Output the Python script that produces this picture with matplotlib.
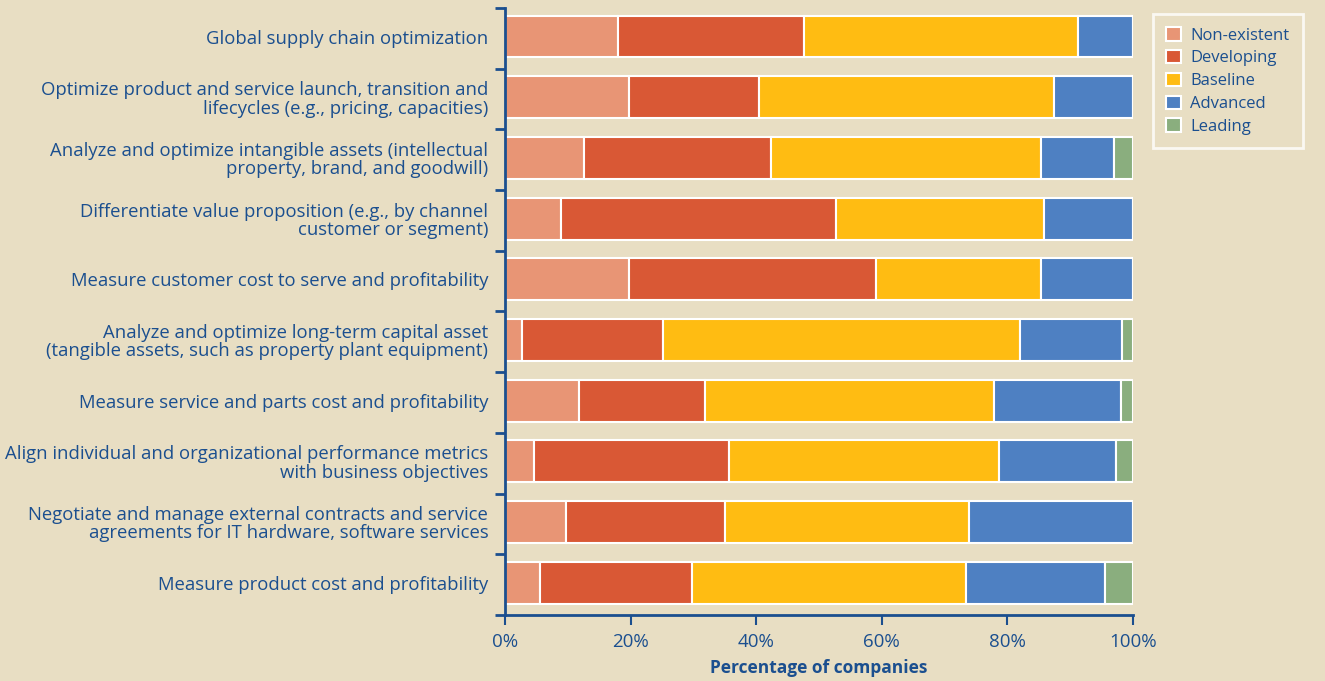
import numpy as np
import matplotlib
matplotlib.use("Agg")
import matplotlib.pyplot as plt

categories = [
    "Global supply chain optimization",
    "Optimize product and service launch, transition and\nlifecycles (e.g., pricing, capacities)",
    "Analyze and optimize intangible assets (intellectual\nproperty, brand, and goodwill)",
    "Differentiate value proposition (e.g., by channel\ncustomer or segment)",
    "Measure customer cost to serve and profitability",
    "Analyze and optimize long-term capital asset\n(tangible assets, such as property plant equipment)",
    "Measure service and parts cost and profitability",
    "Align individual and organizational performance metrics\nwith business objectives",
    "Negotiate and manage external contracts and service\nagreements for IT hardware, software services",
    "Measure product cost and profitability",
]

levels = ["Non-existent", "Developing", "Baseline", "Advanced", "Leading"]

non_existent = [18.0, 19.7, 12.5, 8.9, 19.7, 2.7, 11.8, 4.6, 9.7, 5.5]
developing = [29.6, 20.7, 29.8, 43.8, 39.4, 22.5, 20.1, 31.1, 25.4, 24.2]
baseline = [43.7, 47.0, 43.0, 33.1, 26.3, 56.8, 46.0, 43.0, 38.8, 43.7]
advanced = [8.7, 12.6, 11.7, 14.2, 14.6, 16.2, 20.2, 18.6, 26.1, 22.1]
leading = [0.0, 0.0, 3.0, 0.0, 0.0, 1.8, 1.9, 2.7, 0.0, 4.5]

colors = ["#E89575", "#D95835", "#FFBC12", "#4E80C2", "#8AAE7E"]
bg = "#E8DEC3"
txt = "#1B4F8F"

plt.rcParams['font.family'] = ['Open Sans', 'DejaVu Sans']

fig = plt.figure(figsize=(13.25, 6.81), dpi=100, facecolor=bg)
ax = fig.add_axes([505 / 1325, 1 - 615 / 681, 628 / 1325, 607 / 681])
ax.set_facecolor(bg)

series = [non_existent, developing, baseline, advanced, leading]
y = np.arange(len(categories))
left = np.zeros(len(categories))
for name, vals, col in zip(levels, series, colors):
    vals = np.array(vals)
    ax.barh(y - 0.03, vals, left=left, height=0.69, color=col, edgecolor="white",
            linewidth=1.5, label=name)
    left += vals

ax.set_ylim(len(categories) - 0.5, -0.5)
ax.set_xlim(0, 100)

# category labels, placed in the middle of each slot
ax.set_yticks(y - 0.03)
ax.set_yticklabels(categories, fontsize=13.3, color=txt, linespacing=1.02)
ax.tick_params(axis="y", length=0, pad=12)
# tick marks between categories
ax.set_yticks(np.arange(-0.5, len(categories)), minor=True)
ax.tick_params(axis="y", which="minor", length=7, width=2, color=txt)

ax.set_xticks(np.arange(0, 101, 20))
ax.set_xticklabels([f"{v}%" for v in range(0, 101, 20)], fontsize=13.5, color=txt)
ax.tick_params(axis="x", length=7, width=1.5, color=txt, pad=6)
ax.set_xlabel("Percentage of companies", fontsize=12.5, color=txt, fontweight="bold", labelpad=6)

for s in ["top", "right"]:
    ax.spines[s].set_visible(False)
for s in ["left", "bottom"]:
    ax.spines[s].set_color(txt)
    ax.spines[s].set_linewidth(2)

leg = ax.legend(loc="upper left", bbox_to_anchor=(1153 / 1325, 1 - 14 / 681),
                bbox_transform=fig.transFigure, frameon=True, fancybox=False,
                fontsize=12, handlelength=0.85, handleheight=0.85, handletextpad=0.6,
                labelspacing=0.38, borderpad=0.8, borderaxespad=0)
leg.get_frame().set_facecolor(bg)
leg.get_frame().set_edgecolor("white")
leg.get_frame().set_linewidth(2)
for t in leg.get_texts():
    t.set_color(txt)
for h in leg.legend_handles:
    h.set_edgecolor("white")

fig.savefig("out.png", dpi=100, facecolor=bg)
